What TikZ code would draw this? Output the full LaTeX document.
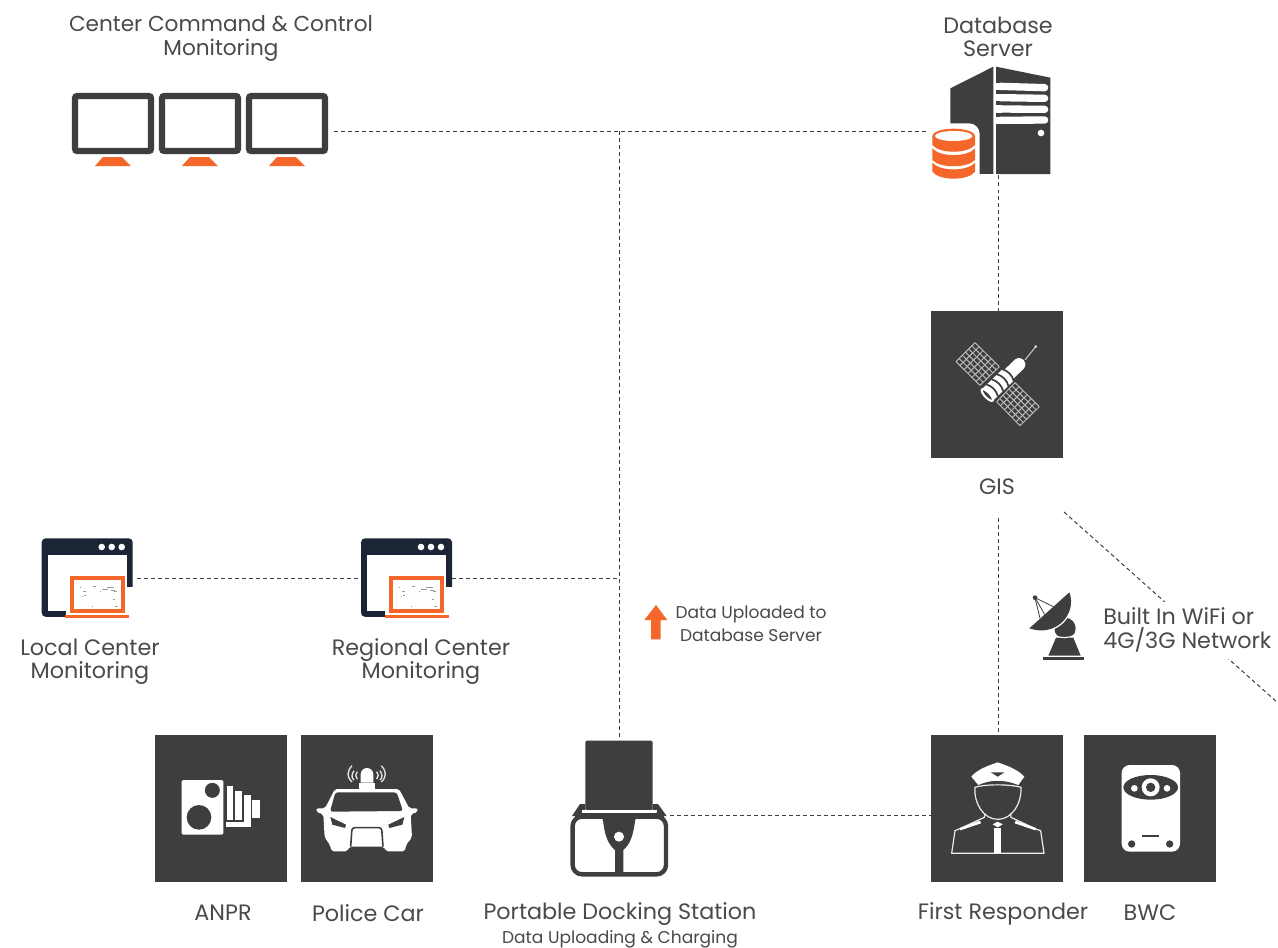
\documentclass[tikz,border=0pt]{standalone}
\usepackage{fontspec}
\setmainfont{Poppins}
\usetikzlibrary{calc}
\definecolor{dk}{HTML}{3E3E3E}
\definecolor{org}{HTML}{F4662A}
\definecolor{navy}{HTML}{1B2535}
\definecolor{txt}{HTML}{4A4A4A}
\tikzset{
  x=0.75pt,y=-0.75pt,
  conn/.style={draw=dk,line width=0.75pt,dash pattern=on 3pt off 2.25pt},
  holder/.style={inner sep=0pt,outer sep=0pt,draw=none,fill=none},
  tile/.style={holder,fill=dk,minimum width=99pt,minimum height=110.25pt},
  lab/.style={inner sep=0pt,align=center,text=txt,font=\fontsize{16.7}{17.6}\selectfont},
  sublab/.style={inner sep=0pt,align=center,text=txt,font=\fontsize{12.8}{17.2}\selectfont},
  leftlab/.style={lab,align=left,anchor=west,fill=white,minimum height=42.75pt},
  wht/.style={fill=white,draw=none},
  monitorpic/.pic={
    \draw[dk,line width=4.6pt,rounded corners=1.6pt] (-38,-27.5) rectangle (38,27.5);
    \fill[org] (-18,42.5) -- (18,42.5) -- (9,33.5) -- (-10,33.5) -- cycle;
  },
  windowpic/.pic={
    \fill[navy,rounded corners=3pt] (0,0) rectangle (91,78.5);
    \fill[white] (6,16.5) rectangle (85,72.5);
    \fill[white] (85,49) rectangle (92,79);
    \fill[white] (24,72) rectangle (92,79);
    \foreach \dx in {60,70,80}{\fill[white] (\dx,8.7) circle (3.3);}
    \draw[org,line width=3pt,fill=white] (30.3,39.7) rectangle (81.3,72.7);
    \fill[org] (23.5,76.7) rectangle (87.5,79.7);
    \foreach \sx/\sy/\sw in {38/49/1,41/53/3,42/57/2,51/48/3,58/53/1,60/51/6,65/49/7,69/52/4,50/68/1,71/61/2,72/53/3,40/58/1,73/68/3}{
      \fill[gray!80] (\sx,\sy) rectangle ++(\sw,0.9);}
  },
}
\begin{document}
\begin{tikzpicture}
\useasboundingbox (0,0) rectangle (1278,947);
\fill[white] (0,0) rectangle (1278,947);

% ---------- holder nodes (extents of the icons)
\node[holder,minimum width=201pt,minimum height=57pt] (monitors) at (200,131) {};
\node[holder,minimum width=103.5pt,minimum height=66pt] (server) at (998.5,131) {};
\node[tile] (gis) at (997,384.5) {};
\node[tile] (anpr) at (221,808.5) {};
\node[tile] (police) at (367,808.5) {};
\node[tile] (responder) at (997,808.5) {};
\node[tile] (bwc) at (1150,808.5) {};
\node[holder,minimum width=74.25pt,minimum height=112.5pt] (dock) at (620.5,815) {};
\node[holder,minimum width=72pt,minimum height=59pt] (localmon) at (89,578) {};
\node[holder,minimum width=68.25pt,minimum height=59pt] (regionmon) at (406.5,578) {};
\coordinate (hubtop) at (619,131);
\coordinate (hubmid) at (619,578);
\coordinate (gisdown) at (998.5,518);
\coordinate (wifistart) at (1064,512);
\coordinate (wifiend) at (1278,703);

% ---------- connectors
\draw[conn] (monitors.east) -- (server.west);
\draw[conn] (hubtop) -- (hubmid -| hubtop) -- (hubtop |- dock.north);
\draw[conn] (localmon.east) -- (regionmon.west);
\draw[conn] (regionmon.east) -- (hubmid);
\draw[conn] (server.south) -- (server.south |- gis.north);
\draw[conn] (gisdown) -- (gisdown |- responder.north);
\draw[conn] (dock.east) -- (dock.east -| responder.west);
\draw[conn] (wifistart) -- (wifiend);

% ---------- monitors
\pic at (113,123.5) {monitorpic};
\pic at (200,123.5) {monitorpic};
\pic at (287,123.5) {monitorpic};

% ---------- server
\begin{scope}[shift={(920,60)},scale=1/3]
  \fill[dk] (91,85) -- (220,20) -- (220,342) -- (91,342) -- cycle;
  \fill[dk] (228,20) -- (391,53) -- (391,342) -- (228,342) -- cycle;
  \foreach \ya/\yb in {79/83,113/115,147/148,181/180}{
    \draw[white,line width=5.5pt,line cap=round] (240,\ya) -- (374,\yb);
    \fill[white] (228,\ya-11) rectangle (245,\ya+11);
  }
  \fill[white] (363,219) circle (10);
  \fill[white,rounded corners=8pt] (20,190) rectangle (179,375);
  \fill[white] (0,260) rectangle (35,375);
  \fill[white] (20,342) rectangle (240,390);
  \fill[org] (101,228) ellipse (64 and 22);
  \fill[org] (37,228) -- (37,255) .. controls (60,282) and (142,282) .. (165,255) -- (165,228) -- cycle;
  \fill[white] (101,228) ellipse (56 and 15);
  \fill[org] (37,265) .. controls (60,292) and (142,292) .. (165,265) -- (165,300) .. controls (142,325) and (60,325) .. (37,300) -- cycle;
  \fill[org] (37,308) .. controls (60,335) and (142,335) .. (165,308) -- (165,335) .. controls (145,363) and (57,363) .. (37,335) -- cycle;
\end{scope}
\draw[conn] (server.south) -- ++(0,12);

% ---------- satellite
\begin{scope}[shift={(930,310)},scale=1/3]
  \foreach \Ax/\Ay/\Bx/\By/\Cx/\Cy/\Dx/\Dy in {135/98/208/170/150/226/78/155,255/218/328/290/270/347/200/275}{
    \foreach \t in {0,1,2,3,4,5,6}{
      \draw[white!72!black,line width=0.75pt] ($(\Ax,\Ay)!\t/6!(\Bx,\By)$) -- ($(\Dx,\Dy)!\t/6!(\Cx,\Cy)$);
      \draw[white!72!black,line width=0.75pt] ($(\Ax,\Ay)!\t/6!(\Dx,\Dy)$) -- ($(\Bx,\By)!\t/6!(\Cx,\Cy)$);
    }
  }
  \draw[white!80!black,line width=0.75pt] (285,150) -- (317,110);
  \fill[white!85!black] (317,110) circle (4.5);
  \begin{scope}[shift={(172,255)},rotate=44]
    \fill[white] (0,-24) -- (85,-24) -- (92,-19) -- (135,-19) .. controls (157,-14) and (157,14) .. (135,19) -- (92,19) -- (85,24) -- (0,24) -- cycle;
    \foreach \bx in {20,42,64,86}{\draw[dk,line width=1.3pt] (\bx,-25) .. controls (\bx+9,-10) and (\bx+9,10) .. (\bx,25);}
    \draw[white,fill=dk,line width=1.6pt] (0,0) ellipse (8 and 23);
  \end{scope}
\end{scope}

% ---------- windows
\pic at (41.7,538.3) {windowpic};
\pic at (361,538.3) {windowpic};

% ---------- ANPR
\begin{scope}[shift={(150,730)},scale=1/3]
  \fill[white,rounded corners=1pt] (95,150) rectangle (220,314);
  \fill[dk] (147,262) circle (37);
  \fill[dk] (187,181) circle (22.5);
  \fill[white] (232,168) rectangle (250,270);
  \fill[white] (255,182) rectangle (275,270);
  \fill[white] (283,195) rectangle (302,292);
  \fill[white] (228,276) rectangle (302,292);
  \fill[white] (305,210) rectangle (330,265);
\end{scope}

% ---------- police car
\begin{scope}[shift={(150,730)},scale=1/3]
  \fill[white,rounded corners=1.5pt] (555,177) -- (747,177) -- (778,235) -- (803,235) -- (803,246) -- (782,253) -- (786,322) -- (768,345) -- (765,364) -- (708,364) -- (702,350) -- (598,350) -- (592,364) -- (545,364) -- (540,345) -- (524,322) -- (520,253) -- (499,246) -- (499,235) -- (525,235) -- cycle;
  \fill[dk,rounded corners=2pt] (556,187) -- (740,187) -- (759,243) -- (540,245) -- cycle;
  \fill[dk] (541,261) -- (588,284) -- (585,294) -- (547,284) -- cycle;
  \fill[dk] (763,261) -- (715,284) -- (718,294) -- (757,284) -- cycle;
  \draw[dk,line width=1.2pt,rounded corners=2pt] (602,350) -- (606,293) -- (695,293) -- (699,350);
  \fill[white] (628,158) rectangle (676,178);
  \fill[white] (632,158) -- (632,133) arc[start angle=180,end angle=360,radius=19] -- (670,158) -- cycle;
  \draw[white!90!black,line width=1pt] (612,122) .. controls (604,135) and (604,142) .. (612,150);
  \draw[white!90!black,line width=1pt] (622,125) .. controls (616,135) and (616,140) .. (622,147);
  \draw[white!90!black,line width=1pt] (606,107) .. controls (590,125) and (590,140) .. (606,156);
  \draw[white!90!black,line width=1pt] (690,122) .. controls (698,135) and (698,142) .. (690,150);
  \draw[white!90!black,line width=1pt] (680,125) .. controls (686,135) and (686,140) .. (680,147);
  \draw[white!90!black,line width=1pt] (694,107) .. controls (710,125) and (710,140) .. (694,156);
\end{scope}

% ---------- dock
\begin{scope}[shift={(560,735)},scale=1/3]
  \draw[dk,line width=3.3pt,rounded corners=7pt,fill=white] (38,245) rectangle (318,418);
  \fill[dk] (36,243) -- (60,207) -- (76,207) -- (76,225) -- (62,235) -- (50,243) -- cycle;
  \fill[dk] (320,243) -- (294,207) -- (278,207) -- (278,225) -- (295,235) -- (306,243) -- cycle;
  \fill[dk,rounded corners=1pt] (76,17) rectangle (278,225);
  \fill[white] (66,225) rectangle (290,232);
  \fill[dk] (45,233) rectangle (311,245);
  \fill[dk] (125,245) -- (230,245) .. controls (220,255) and (228,312) .. (190,345) -- (190,418) -- (165,418) -- (165,345) .. controls (126,312) and (134,255) .. (125,245) -- cycle;
  \fill[white] (177,305) circle (15);
\end{scope}

% ---------- first responder
\begin{scope}[shift={(925,730)},scale=1/3]
  \fill[white] (218,97) .. controls (250,108) and (280,120) .. (298,140) -- (280,165) .. controls (240,148) and (196,148) .. (160,165) -- (139,140) .. controls (155,120) and (185,108) .. (218,97) -- cycle;
  \fill[dk] (198,127) -- (238,127) -- (226,135) -- (218,140) -- (210,135) -- cycle;
  \draw[white!92!black,line width=0.9pt] (150,172) .. controls (180,162) and (255,162) .. (288,172) .. controls (290,220) and (262,268) .. (218,268) .. controls (176,268) and (146,220) .. (150,172) -- cycle;
  \draw[white!92!black,line width=0.9pt,line join=round] (180,250) -- (178,262) -- (100,298) -- (90,302) -- (80,370) -- (357,370) -- (347,302) -- (335,298) -- (258,262) -- (256,250);
  \fill[white] (104,294) -- (165,272) -- (168,280) -- (106,301) -- cycle;
  \fill[white] (333,294) -- (272,272) -- (269,280) -- (331,301) -- cycle;
  \fill[white] (218,275) -- (233,283) -- (218,292) -- (203,283) -- cycle;
  \fill[white] (208,294) rectangle (229,370);
\end{scope}

% ---------- BWC
\begin{scope}[shift={(925,730)},scale=1/3]
  \fill[white,rounded corners=6pt] (590,105) rectangle (765,365);
  \fill[dk] (677,172) ellipse (82 and 37);
  \fill[white] (677,172) circle (27);
  \fill[dk] (677,172) circle (14);
  \fill[white] (628,175) circle (10);
  \fill[white] (726,175) circle (10);
  \fill[dk] (620,342) circle (11);
  \fill[dk] (734,342) circle (11);
  \fill[dk] (650,315) rectangle (703,320);
\end{scope}

% ---------- dish
\begin{scope}[shift={(1020,585)},scale=1/3]
  \draw[dk,line width=0.6pt] (45,38) -- (100,65);
  \draw[dk,line width=0.6pt] (45,38) -- (75,90);
  \draw[dk,line width=0.6pt] (45,38) -- (60,100);
  \fill[dk] (45,38) circle (7);
  \fill[dk] (135,130) circle (32);
  \fill[dk] (108,158) -- (160,158) -- (182,212) -- (85,212) -- cycle;
  \draw[white,line width=0.8pt] (105,152) .. controls (125,160) and (145,160) .. (165,150);
  \fill[white] (152,20) .. controls (178,85) and (112,165) .. (24,134) -- cycle;
  \fill[dk] (148,22) .. controls (172,85) and (110,158) .. (28,130) -- cycle;
  \fill[dk] (70,215) rectangle (192,225);
\end{scope}

% ---------- arrow
\begin{scope}[shift={(630,595)},scale=1/3]
  \fill[org] (78,30) -- (112,75) -- (92,75) -- (92,133) -- (63,133) -- (63,75) -- (43,75) -- cycle;
\end{scope}

% ---------- labels
\node[lab,font=\fontsize{16.2}{17.6}\selectfont] (t1) at (221,38.5) {Center Command \& Control\\Monitoring};
\node[lab] (t2) at (998,37) {Database\\Server};
\node[lab] (t3) at (997,487) {GIS};
\node[lab] (t4) at (90,661.5) {Local Center\\Monitoring};
\node[lab] (t5) at (421,661.5) {Regional Center\\Monitoring};
\node[sublab] (t6) at (751,623.5) {Data Uploaded to\\Database Server};
\node[leftlab] (t7) at (1103,630) {Built In WiFi or\\4G/3G Network};
\node[lab] (t8) at (223,913) {ANPR};
\node[lab] (t9) at (368,913) {Police Car};
\node[lab] (t10) at (620,914) {Portable Docking Station};
\node[sublab] (t11) at (620,939) {Data Uploading \& Charging};
\node[lab] (t12) at (1003,914) {First Responder};
\node[lab] (t13) at (1150,913) {BWC};
\end{tikzpicture}
\end{document}
